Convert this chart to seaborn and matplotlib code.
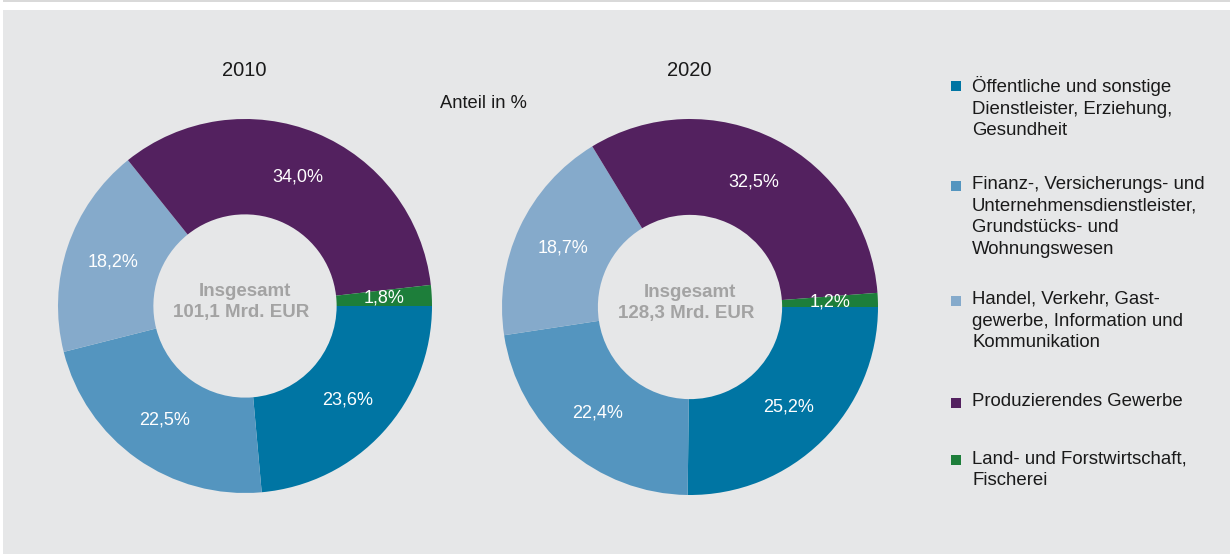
import matplotlib
matplotlib.use("Agg")
import numpy as np
import matplotlib.pyplot as plt
from matplotlib.patches import Rectangle
import seaborn as sns

# Data
sectors = [
    "Öffentliche und sonstige\nDienstleister, Erziehung,\nGesundheit",
    "Finanz-, Versicherungs- und\nUnternehmensdienstleister,\nGrundstücks- und\nWohnungswesen",
    "Handel, Verkehr, Gast-\ngewerbe, Information und\nKommunikation",
    "Produzierendes Gewerbe",
    "Land- und Forstwirtschaft,\nFischerei",
]
share_2010 = [23.6, 22.5, 18.2, 34.0, 1.8]
share_2020 = [25.2, 22.4, 18.7, 32.5, 1.2]
totals = ["101,1", "128,3"]
years = ["2010", "2020"]

colors = ["#0075a3", "#5495bf", "#85aacb", "#53215f", "#1d7e3a"]
bg = "#e6e7e8"

sns.set_theme(style="white")
plt.rcParams["font.family"] = ["Liberation Sans", "DejaVu Sans"]

W, H = 1230, 554
fig = plt.figure(figsize=(W / 100, H / 100), dpi=100, facecolor="white")

# gray panel
fig.patches.append(Rectangle((3 / W, 0), 1 - 3 / W, (H - 10) / H,
                             transform=fig.transFigure, facecolor=bg,
                             edgecolor="none", zorder=-2))
fig.patches.append(Rectangle((3 / W, (H - 1.5) / H), 1 - 3 / W, 1.5 / H,
                             transform=fig.transFigure, facecolor="#d9d9d9",
                             edgecolor="none", zorder=-2))

centers = [(245, 306, 187), (690, 307, 188)]
for (cx, cy, r), vals, total, year in zip(centers, [share_2010, share_2020], totals, years):
    ax = fig.add_axes([(cx - r) / W, (H - cy - r) / H, 2 * r / W, 2 * r / H])
    ax.set_facecolor("none")
    ax.pie(vals, colors=colors, startangle=0, counterclock=False,
           radius=1.0, wedgeprops=dict(width=0.51, linewidth=0))
    ax.set_xlim(-1, 1)
    ax.set_ylim(-1, 1)
    ax.set_aspect("equal")
    ax.axis("off")
    cum = 0
    for v in vals:
        mid = cum + v / 2
        ang = np.deg2rad(-mid / sum(vals) * 360)
        rr = 0.745
        ax.text(rr * np.cos(ang), rr * np.sin(ang), f"{v:.1f}".replace(".", ",") + "%",
                ha="center", va="center", color="white", fontsize=13)
        cum += v
    ax.text(0, 0.075, "Insgesamt", ha="center", va="center", color="#a3a3a3",
            fontsize=13.5, fontweight="bold")
    ax.text(-0.02, -0.035, f"{total} Mrd. EUR", ha="center", va="center", color="#a3a3a3",
            fontsize=13.5, fontweight="bold")
    fig.text((cx - 1) / W, (H - 71) / H, year, ha="center", va="center",
             fontsize=14.5, color="#1a1a1a")

fig.text(483 / W, (H - 103) / H, "Anteil in %", ha="center", va="center",
         fontsize=13.2, color="#1a1a1a")

# legend
legend_y = [86, 186, 301, 403, 460]
for lab, col, y in zip(sectors, colors, legend_y):
    fig.patches.append(Rectangle((951 / W, (H - y - 5) / H), 10 / W, 10 / H,
                                 transform=fig.transFigure, facecolor=col,
                                 edgecolor="none"))
    fig.text(972 / W, (H - y + 10) / H, lab, ha="left", va="top",
             fontsize=13.4, color="#1a1a1a", linespacing=1.36)

fig.savefig("out.png", dpi=100, facecolor="white")
